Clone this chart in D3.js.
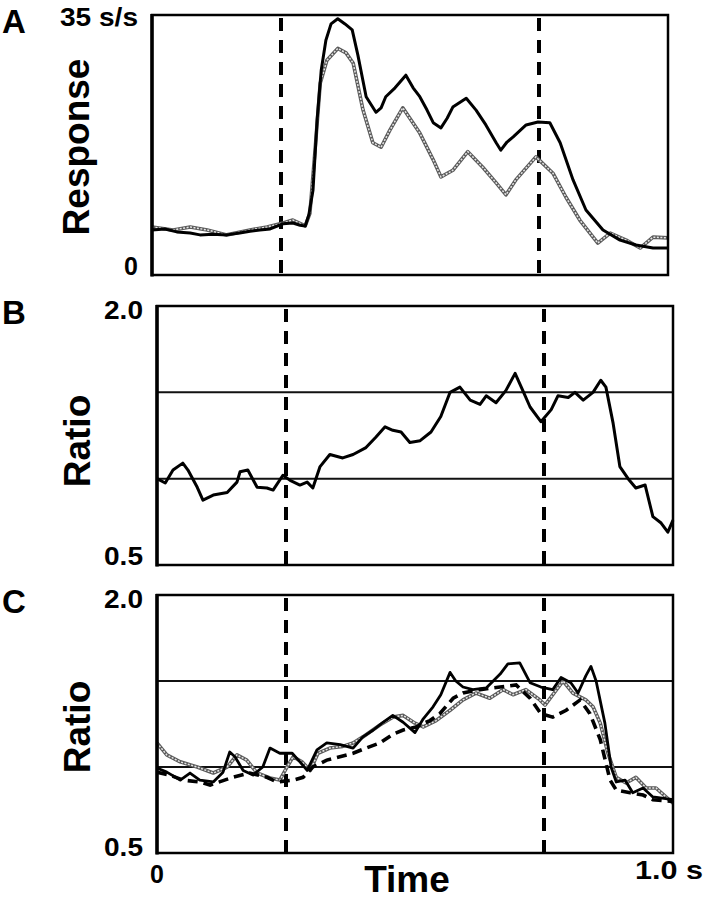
<!DOCTYPE html>
<html>
<head>
<meta charset="utf-8">
<script src="https://cdn.jsdelivr.net/npm/d3@7"></script>
<style>
  body { margin: 0; background: #fff; }
  svg { display: block; font-family: "Liberation Sans", Arial, Helvetica, sans-serif; font-weight: bold; }
</style>
</head>
<body>
<svg id="chart" width="706" height="900"></svg>
<script>
// time in s, response in spikes/s
const respBlack = [
  [0, 6.06], [0.025, 6.2], [0.048, 5.8], [0.074, 5.65], [0.093, 5.4], [0.118, 5.5],
  [0.145, 5.4], [0.17, 5.65], [0.19, 5.9], [0.209, 6.05], [0.229, 6.2], [0.254, 6.9],
  [0.273, 7.0], [0.287, 6.7], [0.297, 6.6], [0.304, 8.1], [0.312, 11.4], [0.32, 20.9],
  [0.328, 27.6], [0.337, 31.6], [0.347, 33.8], [0.36, 34.5], [0.374, 33.8], [0.388, 33.0],
  [0.399, 29.6], [0.415, 24.0], [0.434, 21.9], [0.444, 22.5], [0.453, 24.0], [0.471, 25.2],
  [0.492, 26.9], [0.506, 25.2], [0.519, 24.0], [0.533, 22.2], [0.545, 20.5], [0.56, 19.8],
  [0.572, 21.1], [0.583, 22.6], [0.609, 23.8], [0.628, 22.2], [0.647, 20.2], [0.667, 17.8],
  [0.676, 16.8], [0.688, 17.9], [0.7, 18.6], [0.725, 20.2], [0.748, 20.6], [0.771, 20.5],
  [0.791, 17.8], [0.816, 12.8], [0.841, 8.75], [0.874, 6.06], [0.907, 4.7], [0.938, 4.04],
  [0.971, 3.63], [1.0, 3.63]
];
const respGray = [
  [0, 6.46], [0.041, 6.06], [0.074, 6.46], [0.107, 6.06], [0.145, 5.4], [0.19, 6.06],
  [0.223, 6.46], [0.254, 7.0], [0.273, 7.4], [0.297, 6.6], [0.306, 8.3], [0.316, 16.8],
  [0.326, 25.8], [0.339, 28.9], [0.36, 30.5], [0.376, 29.9], [0.39, 28.5], [0.409, 22.2],
  [0.428, 17.8], [0.444, 17.2], [0.461, 19.5], [0.486, 22.5], [0.519, 19.1], [0.545, 15.5],
  [0.56, 13.2], [0.583, 14.1], [0.612, 16.6], [0.641, 14.5], [0.667, 12.4], [0.686, 10.8],
  [0.705, 12.8], [0.744, 15.9], [0.777, 13.7], [0.802, 10.5], [0.829, 7.4], [0.864, 4.3],
  [0.888, 5.65], [0.919, 4.7], [0.946, 3.63], [0.971, 5.1], [1.0, 5.0]
];
const ratioB = [
  [0, 1.0], [0.016, 0.975], [0.031, 1.05], [0.05, 1.09], [0.06, 1.05], [0.078, 0.95],
  [0.089, 0.876], [0.109, 0.905], [0.136, 0.92], [0.155, 0.98], [0.161, 1.04], [0.176, 1.05],
  [0.194, 0.95], [0.213, 0.946], [0.225, 0.934], [0.244, 1.02], [0.258, 0.99], [0.277, 0.963],
  [0.291, 0.98], [0.302, 0.946], [0.316, 1.07], [0.335, 1.14], [0.36, 1.12], [0.38, 1.14],
  [0.405, 1.18], [0.424, 1.24], [0.442, 1.30], [0.457, 1.28], [0.473, 1.27], [0.49, 1.21],
  [0.51, 1.22], [0.531, 1.27], [0.55, 1.36], [0.568, 1.5], [0.587, 1.53], [0.607, 1.455],
  [0.626, 1.43], [0.638, 1.48], [0.657, 1.44], [0.676, 1.51], [0.694, 1.61], [0.709, 1.51],
  [0.723, 1.415], [0.744, 1.33], [0.764, 1.40], [0.777, 1.48], [0.797, 1.47], [0.81, 1.5],
  [0.826, 1.455], [0.845, 1.5], [0.86, 1.57], [0.87, 1.53], [0.884, 1.32], [0.897, 1.07],
  [0.913, 1.0], [0.928, 0.946], [0.946, 0.963], [0.961, 0.78], [0.977, 0.743], [0.99, 0.69],
  [1.0, 0.76]
];
const ratioCSolid = [
  [0, 0.994], [0.019, 0.97], [0.045, 0.924], [0.064, 0.965], [0.083, 0.924], [0.109, 0.913],
  [0.128, 0.97], [0.141, 1.087], [0.151, 1.06], [0.167, 0.98], [0.186, 0.953], [0.205, 1.0],
  [0.219, 1.11], [0.238, 1.08], [0.262, 1.08], [0.277, 1.03], [0.291, 0.98], [0.31, 1.1],
  [0.329, 1.14], [0.355, 1.13], [0.38, 1.11], [0.399, 1.175], [0.419, 1.215], [0.438, 1.26],
  [0.457, 1.30], [0.477, 1.26], [0.5, 1.2], [0.516, 1.28], [0.535, 1.35], [0.55, 1.42],
  [0.568, 1.55], [0.579, 1.5], [0.593, 1.465], [0.612, 1.45], [0.638, 1.46], [0.665, 1.54],
  [0.68, 1.6], [0.703, 1.605], [0.723, 1.49], [0.744, 1.465], [0.767, 1.45], [0.783, 1.52],
  [0.802, 1.49], [0.816, 1.43], [0.831, 1.53], [0.841, 1.585], [0.851, 1.5], [0.868, 1.255],
  [0.88, 1.0], [0.89, 0.913], [0.907, 0.924], [0.922, 0.85], [0.942, 0.878], [0.961, 0.826],
  [1.0, 0.81]
];
const ratioCGray = [
  [0, 1.14], [0.019, 1.07], [0.045, 1.03], [0.078, 1.0], [0.109, 0.965], [0.136, 1.0],
  [0.155, 1.07], [0.174, 1.04], [0.194, 0.965], [0.219, 0.936], [0.238, 0.924], [0.252, 1.0],
  [0.264, 1.06], [0.281, 1.03], [0.297, 0.98], [0.312, 1.08], [0.335, 1.11], [0.36, 1.12],
  [0.38, 1.14], [0.399, 1.175], [0.432, 1.244], [0.457, 1.29], [0.477, 1.30], [0.5, 1.255],
  [0.516, 1.233], [0.541, 1.27], [0.568, 1.33], [0.593, 1.39], [0.618, 1.43], [0.645, 1.4],
  [0.671, 1.45], [0.69, 1.42], [0.715, 1.45], [0.742, 1.39], [0.752, 1.36], [0.767, 1.42],
  [0.787, 1.5], [0.806, 1.43], [0.831, 1.39], [0.845, 1.35], [0.859, 1.255], [0.874, 1.08],
  [0.89, 0.94], [0.909, 0.907], [0.928, 0.94], [0.948, 0.878], [0.967, 0.878], [1.0, 0.79]
];
const ratioCDashed = [
  [0, 0.97], [0.025, 0.953], [0.05, 0.924], [0.083, 0.913], [0.103, 0.895], [0.147, 0.94],
  [0.18, 0.965], [0.213, 0.94], [0.233, 0.913], [0.264, 0.924], [0.283, 0.94], [0.302, 1.0],
  [0.329, 1.04], [0.38, 1.08], [0.405, 1.11], [0.432, 1.14], [0.457, 1.19], [0.477, 1.215],
  [0.502, 1.233], [0.529, 1.27], [0.548, 1.31], [0.574, 1.4], [0.593, 1.43], [0.626, 1.45],
  [0.665, 1.465], [0.696, 1.477], [0.723, 1.40], [0.744, 1.31], [0.767, 1.29], [0.793, 1.33],
  [0.82, 1.39], [0.839, 1.31], [0.859, 1.16], [0.878, 0.924], [0.89, 0.866], [0.917, 0.85],
  [0.942, 0.837], [0.961, 0.81], [1.0, 0.8]
];
const stimTimes = [0.25, 0.75];
const ratioRefs = [1.0, 1.5];
const respTicks = [[0, "0"], [35, "35 s/s"]];
const ratioTicks = [[0.5, "0.5"], [2.0, "2.0"]];

const svg = d3.select("#chart");

function panel(opts) {
  const x = d3.scaleLinear().domain([0, 1]).range([opts.left, opts.right]);
  const y = d3.scaleLinear().domain(opts.domain).range([opts.bottom, opts.top]);
  const g = svg.append("g");

  // reference lines
  (opts.refs || []).forEach(r => {
    g.append("line")
      .attr("x1", x(0)).attr("x2", x(1))
      .attr("y1", y(r)).attr("y2", y(r))
      .attr("stroke", "#111").attr("stroke-width", 2);
  });

  stimTimes.forEach(t => {
    g.append("line")
      .attr("x1", x(t)).attr("x2", x(t))
      .attr("y1", y(opts.domain[1]) + 3).attr("y2", y(opts.domain[0]))
      .attr("stroke", "#000").attr("stroke-width", 4)
      .attr("stroke-dasharray", "13,9");
  });

  const line = d3.line().x(d => x(d[0])).y(d => y(d[1]));

  opts.series.forEach(s => {
    if (s.kind === "gray") {
      g.append("path").datum(s.data).attr("d", line)
        .attr("fill", "none").attr("stroke", "#5a5a5a").attr("stroke-width", 3.6)
        .attr("stroke-linejoin", "round");
      g.append("path").datum(s.data).attr("d", line)
        .attr("fill", "none").attr("stroke", "#e6e6e6").attr("stroke-width", 1.5)
        .attr("stroke-dasharray", "2,1.5");
    } else if (s.kind === "dashed") {
      g.append("path").datum(s.data).attr("d", line)
        .attr("fill", "none").attr("stroke", "#000").attr("stroke-width", 3.6)
        .attr("stroke-dasharray", "10,6");
    } else {
      g.append("path").datum(s.data).attr("d", line)
        .attr("fill", "none").attr("stroke", "#000").attr("stroke-width", s.width || 3)
        .attr("stroke-linejoin", "round");
    }
  });

  // frame
  g.append("rect")
    .attr("x", x(0)).attr("y", y(opts.domain[1]))
    .attr("width", x(1) - x(0)).attr("height", y(opts.domain[0]) - y(opts.domain[1]))
    .attr("fill", "none").attr("stroke", "#000").attr("stroke-width", 2.5);
  g.append("line")
    .attr("x1", x(0)).attr("x2", x(0))
    .attr("y1", y(opts.domain[1]) - 1).attr("y2", y(opts.domain[0]) + 1.5)
    .attr("stroke", "#000").attr("stroke-width", 3.5);

  // tick labels
  opts.ticks.forEach(([v, label], i) => {
    const t = g.append("text")
      .attr("x", x(0) - 14)
      .attr("y", y(v) + (i === 1 ? opts.topShift : opts.botShift))
      .attr("text-anchor", "end")
      .attr("font-size", 25)
      .text(label);
    if (label.length > 1) {
      t.attr("textLength", opts.tickWidths[i]).attr("lengthAdjust", "spacingAndGlyphs");
    }
  });

  // panel letter
  g.append("text").attr("x", 2).attr("y", opts.letterY)
    .attr("font-size", 33).text(opts.letter);

  // y label
  g.append("text")
    .attr("transform", `translate(${opts.labelX},${opts.labelY}) rotate(-90)`)
    .attr("text-anchor", "middle")
    .attr("font-size", 37)
    .text(opts.label);

  return x;
}

panel({
  left: 152, right: 668, top: 15, bottom: 275, domain: [0, 35],
  series: [{ data: respGray, kind: "gray" }, { data: respBlack, kind: "solid", width: 3 }],
  ticks: respTicks, tickWidths: [12, 78], topShift: 11, botShift: 0,
  letter: "A", letterY: 33, label: "Response", labelX: 89, labelY: 147
});

panel({
  left: 157, right: 673, top: 306, bottom: 565, domain: [0.5, 2.0], refs: ratioRefs,
  series: [{ data: ratioB, kind: "solid", width: 3 }],
  ticks: ratioTicks, tickWidths: [39, 39], topShift: 13, botShift: 0,
  letter: "B", letterY: 324, label: "Ratio", labelX: 90, labelY: 441
});

const xC = panel({
  left: 157, right: 673, top: 595, bottom: 853, domain: [0.5, 2.0], refs: ratioRefs,
  series: [
    { data: ratioCGray, kind: "gray" },
    { data: ratioCDashed, kind: "dashed" },
    { data: ratioCSolid, kind: "solid", width: 2.8 }
  ],
  ticks: ratioTicks, tickWidths: [39, 39], topShift: 13, botShift: 3,
  letter: "C", letterY: 613, label: "Ratio", labelX: 90, labelY: 727
});

// time axis labels
svg.append("text").attr("x", xC(0)).attr("y", 883)
  .attr("text-anchor", "middle").attr("font-size", 25).text("0");
svg.append("text").attr("x", 703).attr("y", 879)
  .attr("text-anchor", "end").attr("font-size", 25)
  .attr("textLength", 68).attr("lengthAdjust", "spacingAndGlyphs").text("1.0 s");
svg.append("text").attr("x", 407).attr("y", 892)
  .attr("text-anchor", "middle").attr("font-size", 37).text("Time");
</script>
</body>
</html>
